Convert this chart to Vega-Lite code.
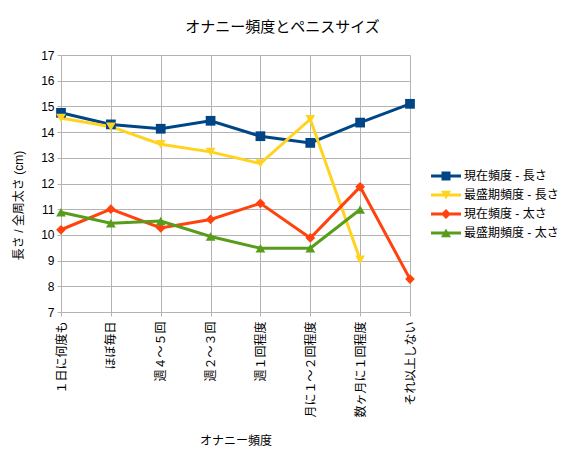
{
  "$schema": "https://vega.github.io/schema/vega-lite/v6.json",
  "width": 349,
  "height": 257,
  "autosize": "none",
  "padding": {"left": 61, "top": 55, "right": 156, "bottom": 140},
  "background": "white",
  "config": {
    "font": "Liberation Sans, Noto Sans CJK JP",
    "view": {"stroke": null}
  },
  "title": {
    "text": "オナニー頻度とペニスサイズ",
    "fontSize": 15,
    "fontWeight": "normal",
    "color": "#000",
    "anchor": "middle",
    "dx": 47,
    "offset": 14
  },
  "data": {
    "values": [
      {"freq": "１日に何度も", "series": "現在頻度 - 長さ", "value": 14.75},
      {"freq": "ほぼ毎日", "series": "現在頻度 - 長さ", "value": 14.3},
      {"freq": "週４～５回", "series": "現在頻度 - 長さ", "value": 14.13},
      {"freq": "週２～３回", "series": "現在頻度 - 長さ", "value": 14.44},
      {"freq": "週１回程度", "series": "現在頻度 - 長さ", "value": 13.84},
      {"freq": "月に１～２回程度", "series": "現在頻度 - 長さ", "value": 13.58},
      {"freq": "数ヶ月に１回程度", "series": "現在頻度 - 長さ", "value": 14.37},
      {"freq": "それ以上しない", "series": "現在頻度 - 長さ", "value": 15.1},
      {"freq": "１日に何度も", "series": "最盛期頻度 - 長さ", "value": 14.55},
      {"freq": "ほぼ毎日", "series": "最盛期頻度 - 長さ", "value": 14.21},
      {"freq": "週４～５回", "series": "最盛期頻度 - 長さ", "value": 13.53},
      {"freq": "週２～３回", "series": "最盛期頻度 - 長さ", "value": 13.23},
      {"freq": "週１回程度", "series": "最盛期頻度 - 長さ", "value": 12.78},
      {"freq": "月に１～２回程度", "series": "最盛期頻度 - 長さ", "value": 14.5},
      {"freq": "数ヶ月に１回程度", "series": "最盛期頻度 - 長さ", "value": 9.03},
      {"freq": "１日に何度も", "series": "現在頻度 - 太さ", "value": 10.2},
      {"freq": "ほぼ毎日", "series": "現在頻度 - 太さ", "value": 11.0},
      {"freq": "週４～５回", "series": "現在頻度 - 太さ", "value": 10.27},
      {"freq": "週２～３回", "series": "現在頻度 - 太さ", "value": 10.6},
      {"freq": "週１回程度", "series": "現在頻度 - 太さ", "value": 11.23},
      {"freq": "月に１～２回程度", "series": "現在頻度 - 太さ", "value": 9.88},
      {"freq": "数ヶ月に１回程度", "series": "現在頻度 - 太さ", "value": 11.87},
      {"freq": "それ以上しない", "series": "現在頻度 - 太さ", "value": 8.28},
      {"freq": "１日に何度も", "series": "最盛期頻度 - 太さ", "value": 10.88},
      {"freq": "ほぼ毎日", "series": "最盛期頻度 - 太さ", "value": 10.45},
      {"freq": "週４～５回", "series": "最盛期頻度 - 太さ", "value": 10.54},
      {"freq": "週２～３回", "series": "最盛期頻度 - 太さ", "value": 9.94},
      {"freq": "週１回程度", "series": "最盛期頻度 - 太さ", "value": 9.48},
      {"freq": "月に１～２回程度", "series": "最盛期頻度 - 太さ", "value": 9.48},
      {"freq": "数ヶ月に１回程度", "series": "最盛期頻度 - 太さ", "value": 10.99}
    ]
  },
  "encoding": {
    "x": {
      "field": "freq",
      "type": "ordinal",
      "sort": ["１日に何度も", "ほぼ毎日", "週４～５回", "週２～３回", "週１回程度", "月に１～２回程度", "数ヶ月に１回程度", "それ以上しない"],
      "scale": {"type": "point", "padding": 0},
      "axis": {
        "title": "オナニー頻度",
        "titleFontSize": 12,
        "titleFontWeight": "normal",
        "titleColor": "#000",
        "titleY": 128,
        "titleBaseline": "middle",
        "labelAngle": -90,
        "labelFontSize": 12,
        "labelColor": "#000",
        "labelPadding": 5,
        "tickSize": 4,
        "tickColor": "#b3b3b3",
        "domainColor": "#b3b3b3",
        "grid": true,
        "gridColor": "#b3b3b3"
      }
    },
    "y": {
      "field": "value",
      "type": "quantitative",
      "scale": {"domain": [7, 17], "nice": false, "zero": false},
      "axis": {
        "title": "長さ / 全周太さ (cm)",
        "titleFontSize": 12,
        "titleFontWeight": "normal",
        "titleColor": "#000",
        "titleX": -36,
        "titleY": 150,
        "values": [7, 8, 9, 10, 11, 12, 13, 14, 15, 16, 17],
        "labelFontSize": 12,
        "labelColor": "#000",
        "labelPadding": 3,
        "tickSize": 4,
        "tickColor": "#b3b3b3",
        "domainColor": "#b3b3b3",
        "grid": true,
        "gridColor": "#b3b3b3"
      }
    },
    "color": {
      "field": "series",
      "type": "nominal",
      "scale": {
        "domain": ["現在頻度 - 長さ", "最盛期頻度 - 長さ", "現在頻度 - 太さ", "最盛期頻度 - 太さ"],
        "range": ["#004586", "#ffd320", "#ff420e", "#579d1c"]
      },
      "legend": {
        "title": null,
        "orient": "none",
        "legendX": 379,
        "legendY": 115,
        "padding": 0,
        "labelFontSize": 12,
        "labelColor": "#000",
        "labelOffset": 12,
        "symbolSize": 100,
        "rowPadding": 7,
        "encode": {
          "symbols": {
            "update": {
              "shape": {"signal": "datum.value === '現在頻度 - 長さ' ? 'M-3,-0.28H3V0.28H-3Z M-0.9,-0.9H0.9V0.9H-0.9Z' : datum.value === '最盛期頻度 - 長さ' ? 'M-3,-0.28H3V0.28H-3Z M-1,-0.85L1,-0.85L0,0.9Z' : datum.value === '現在頻度 - 太さ' ? 'M-3,-0.28H3V0.28H-3Z M0,-1L1,0L0,1L-1,0Z' : 'M-3,-0.28H3V0.28H-3Z M0,-0.9L1,0.85L-1,0.85Z'"},
              "fill": {"signal": "scale('color', datum.value)"},
              "fillOpacity": {"value": 1},
              "opacity": {"value": 1},
              "strokeWidth": {"value": 0}
            }
          }
        }
      }
    }
  },
  "layer": [
    {"mark": {"type": "line", "strokeWidth": 3}},
    {
      "mark": {
        "type": "point",
        "filled": true,
        "size": 95,
        "opacity": 1,
        "shape": {"expr": "datum.series === '現在頻度 - 長さ' ? 'square' : datum.series === '最盛期頻度 - 長さ' ? 'triangle-down' : datum.series === '現在頻度 - 太さ' ? 'diamond' : 'triangle-up'"}
      }
    }
  ]
}
